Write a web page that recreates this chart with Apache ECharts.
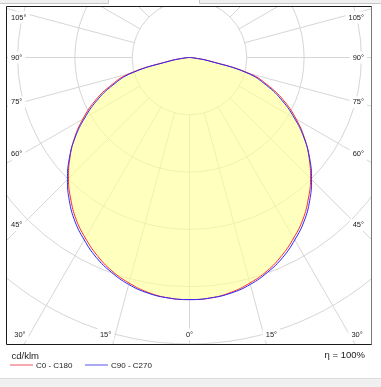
<!DOCTYPE html>
<html>
<head>
<meta charset="utf-8">
<script src="https://cdn.jsdelivr.net/npm/echarts@6/dist/echarts.min.js"></script>
<style>
html,body{margin:0;padding:0;background:#fff;}
#chart{width:381px;height:387px;}
</style>
</head>
<body>
<div id="chart"></div>
<script>
// ---------- data ----------
const gammaAngles = [0,5,10,15,20,25,30,35,40,45,50,55,60,65,70,75,80,85,90];
const c0c180  = [338,337,333,326,317,305,291,276,258,239,218,196,172,147,119,87,30,6,0];
const c90c270 = [338,337,334,328,319,308,294,279,261,241,219,195,169,143,115,83,27,5,0];
const radiusLabels = [160,240,320];
const angleLabels = [0,15,30,45,60,75,90,105];
const seriesNames = ['C0 - C180','C90 - C270'];
const unitLabel = 'cd/klm';
const efficiencyLabel = 'η = 100%';

// ---------- layout ----------
const W = 381, H = 387;
const cx = 189.5, cy = 57.5, R = 286.5;
const rMax = 400, rInner = 80, rGridMax = 480;
const FONT = 'Liberation Sans, Arial, sans-serif';
const gridColor = '#d6d6d6';
const lineColors = ['#ff2a2a', '#2a2aff'];
const legendColors = ['#f6a9b1', '#a9a9f6'];
const legendItemX = [10, 85];

function curve(vals){
  const pts = [];
  for (let i = gammaAngles.length - 1; i >= 1; i--) pts.push([vals[i], 360 - gammaAngles[i]]);
  for (let i = 0; i < gammaAngles.length; i++) pts.push([vals[i], gammaAngles[i]]);
  return pts;
}

function angleLabelEl(theta, side){
  const rad = theta * Math.PI / 180;
  const s = Math.sin(rad), c = Math.cos(rad);
  const xL = 22, xR = 357, yT = 17.5, yB = 334.5;
  let x, y, align;
  if (theta === 0) { x = cx; y = yB; align = 'center'; }
  else {
    const t = (side < 0 ? cx - xL : xR - cx) / s;
    const yy = cy + t * c;
    if (yy <= yB) {
      y = Math.max(yy, yT);
      x = side < 0 ? 8 : 367;
      align = side < 0 ? 'left' : 'right';
    } else {
      const t2 = (yB - cy) / c;
      const xx = cx + side * t2 * s;
      y = yB;
      x = xx - 1;
      align = side < 0 ? 'right' : 'left';
    }
  }
  return {
    type: 'text', z: 103, x: x, y: y,
    style: {
      text: theta + '°', fontSize: 7.5, fontFamily: FONT, fill: '#222',
      align: align, verticalAlign: 'middle',
      backgroundColor: '#fff', padding: [2, 3]
    }
  };
}

const labelEls = [];
angleLabels.forEach(a => {
  labelEls.push(angleLabelEl(a, -1));
  if (a !== 0) labelEls.push(angleLabelEl(a, 1));
});

const legendEls = [];
seriesNames.forEach((name, i) => {
  const x0 = legendItemX[i];
  legendEls.push({type: 'line', z: 103, silent: true,
    shape: {x1: x0, y1: 365, x2: x0 + 23, y2: 365},
    style: {stroke: legendColors[i], lineWidth: 2}});
  legendEls.push({type: 'text', z: 103, silent: true, x: x0 + 26, y: 365.5,
    style: {text: name, fontSize: 8, fontFamily: FONT, fill: '#222', align: 'left', verticalAlign: 'middle'}});
});

const chart = echarts.init(document.getElementById('chart'), null, {renderer: 'canvas'});

const hiddenAxis = {
  axisLine: {show: false}, axisTick: {show: false},
  axisLabel: {show: false}, splitLine: {show: false}, splitArea: {show: false}
};

chart.setOption({
  animation: false,
  backgroundColor: '#fff',
  polar: [
    {center: [cx, cy], radius: R},
    {center: [cx, cy], radius: [R * rInner / rMax, R * rGridMax / rMax]}
  ],
  angleAxis: [
    Object.assign({polarIndex: 0, type: 'value', min: 0, max: 360, startAngle: 270, clockwise: true}, hiddenAxis),
    {
      polarIndex: 1, type: 'value', min: 0, max: 360, interval: 15, startAngle: 270, clockwise: true,
      axisLine: {show: false}, axisTick: {show: false}, axisLabel: {show: false},
      splitLine: {show: true, lineStyle: {color: gridColor, width: 1}}
    }
  ],
  radiusAxis: [
    Object.assign({polarIndex: 0, type: 'value', min: 0, max: rMax}, hiddenAxis),
    {
      polarIndex: 1, type: 'value', min: rInner, max: rGridMax, interval: 80,
      axisLine: {show: false}, axisTick: {show: false}, axisLabel: {show: false},
      splitLine: {show: true, lineStyle: {color: gridColor, width: 1}}
    }
  ],
  series: [
    {
      name: seriesNames[0], type: 'line', coordinateSystem: 'polar', polarIndex: 0,
      data: curve(c0c180), symbol: 'none', smooth: 0.45, silent: true, clip: false,
      lineStyle: {color: lineColors[0], width: 1}, itemStyle: {color: lineColors[0]},
      areaStyle: {color: 'rgb(255,255,150)', opacity: 0.62},
      z: 2
    },
    {
      name: seriesNames[1], type: 'line', coordinateSystem: 'polar', polarIndex: 0,
      data: curve(c90c270), symbol: 'none', smooth: 0.45, silent: true, clip: false,
      lineStyle: {color: lineColors[1], width: 1}, itemStyle: {color: lineColors[1]},
      z: 3
    },
    {
      type: 'scatter', coordinateSystem: 'polar', polarIndex: 0, silent: true,
      data: radiusLabels.map(v => [v, 0]), symbolSize: 1, itemStyle: {opacity: 0},
      label: {
        show: true, position: 'inside', formatter: p => p.value[0],
        fontSize: 7.5, fontFamily: FONT, color: '#222',
        backgroundColor: 'rgb(255,255,192)', padding: [0, 1]
      },
      z: 5
    }
  ],
  graphic: [
    // white masks outside the plot frame
    {type: 'rect', z: 100, silent: true, shape: {x: 0, y: 0, width: W, height: 7}, style: {fill: '#fff'}},
    {type: 'rect', z: 100, silent: true, shape: {x: 0, y: 0, width: 6.5, height: H}, style: {fill: '#fff'}},
    {type: 'rect', z: 100, silent: true, shape: {x: 372, y: 0, width: 9, height: H}, style: {fill: '#fff'}},
    {type: 'rect', z: 100, silent: true, shape: {x: 0, y: 345, width: W, height: 42}, style: {fill: '#fff'}},
    // window chrome
    {type: 'rect', z: 101, silent: true, shape: {x: -1, y: -1, width: 109.5, height: 4.5}, style: {fill: '#f0f0f0', stroke: '#c8c8c8', lineWidth: 1}},
    {type: 'rect', z: 101, silent: true, shape: {x: 199.5, y: -1, width: 183, height: 4.5}, style: {fill: '#f0f0f0', stroke: '#c8c8c8', lineWidth: 1}},
    {type: 'rect', z: 101, silent: true, shape: {x: -1, y: 378.5, width: 383, height: 10}, style: {fill: '#f0f0f0', stroke: '#dcdcdc', lineWidth: 1}},
    // frame
    {type: 'rect', z: 102, silent: true, shape: {x: 6.5, y: 6.5, width: 365, height: 338}, style: {fill: 'none', stroke: '#1a1a1a', lineWidth: 1}},
    {type: 'line', z: 102, silent: true, shape: {x1: 371.5, y1: 7, x2: 371.5, y2: 344}, style: {stroke: '#777', lineWidth: 1}},
    // texts
    {type: 'text', z: 103, x: 11.5, y: 356, style: {text: unitLabel, fontSize: 9.5, fontFamily: FONT, fill: '#222', align: 'left', verticalAlign: 'middle'}},
    {type: 'text', z: 103, x: 365, y: 355.5, style: {text: efficiencyLabel, fontSize: 9.5, fontFamily: FONT, fill: '#222', align: 'right', verticalAlign: 'middle'}}
  ].concat(labelEls, legendEls)
});
</script>
</body>
</html>
